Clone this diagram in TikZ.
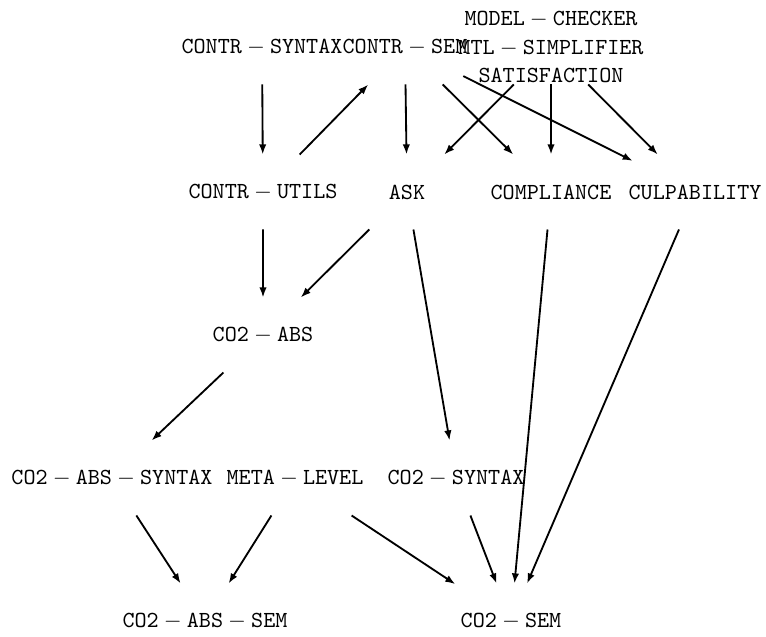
\documentclass[tikz,border=0pt]{standalone}
\usetikzlibrary{arrows.meta}
\begin{document}
\begin{tikzpicture}[x=0.4348pt, y=-0.4348pt,
  mod/.style={inner xsep=-2pt, inner ysep=0pt, minimum height=32.2pt,
              minimum width=48pt, font=\fontsize{10}{12.4}\selectfont},
  dep/.style={-{Latex[length=4.4pt,width=3.2pt]}, line width=0.8pt}]
\useasboundingbox (0,0) rectangle (766,637);

% top row
\node[mod] (cs)  at (262,47) {$\mathtt{CONTR-SYNTAX}$};
\node[mod] (cse) at (405,47) {$\mathtt{CONTR-SEM}$};
\node[mod, align=center] (mc) at (551,47)
  {$\mathtt{MODEL-CHECKER}$\\$\mathtt{MTL-SIMPLIFIER}$\\$\mathtt{SATISFACTION}$};

% second row
\node[mod] (cu)   at (263,192) {$\mathtt{CONTR-UTILS}$};
\node[mod] (ask)  at (407,192) {$\mathtt{ASK}$};
\node[mod] (comp) at (551,192) {$\mathtt{COMPLIANCE}$};
\node[mod] (culp) at (695,192) {$\mathtt{CULPABILITY}$};

% third row
\node[mod] (abs) at (263,335) {$\mathtt{CO2-ABS}$};

% fourth row
\node[mod] (abssyn) at (112,478) {$\mathtt{CO2-ABS-SYNTAX}$};
\node[mod] (meta)   at (295,478) {$\mathtt{META-LEVEL}$};
\node[mod] (syn)    at (456,478) {$\mathtt{CO2-SYNTAX}$};

% bottom row
\node[mod] (abssem) at (205,621) {$\mathtt{CO2-ABS-SEM}$};
\node[mod] (sem)    at (511,621) {$\mathtt{CO2-SEM}$};

% dependencies
\draw[dep] (cs) -- (cu);
\draw[dep] (cu) -- (cse);
\draw[dep] (cse) -- (ask);
\draw[dep] (cse) -- (comp);
\draw[dep] (cse) -- (culp);
\draw[dep] (mc) -- (ask);
\draw[dep] (mc) -- (comp);
\draw[dep] (mc) -- (culp);
\draw[dep] (cu) -- (abs);
\draw[dep] (ask) -- (abs);
\draw[dep] (ask) -- (syn);
\draw[dep] (comp) -- (sem);
\draw[dep] (culp) -- (sem);
\draw[dep] (abs) -- (abssyn);
\draw[dep] (abssyn) -- (abssem);
\draw[dep] (meta) -- (abssem);
\draw[dep] (meta) -- (sem);
\draw[dep] (syn) -- (sem);
\end{tikzpicture}
\end{document}
